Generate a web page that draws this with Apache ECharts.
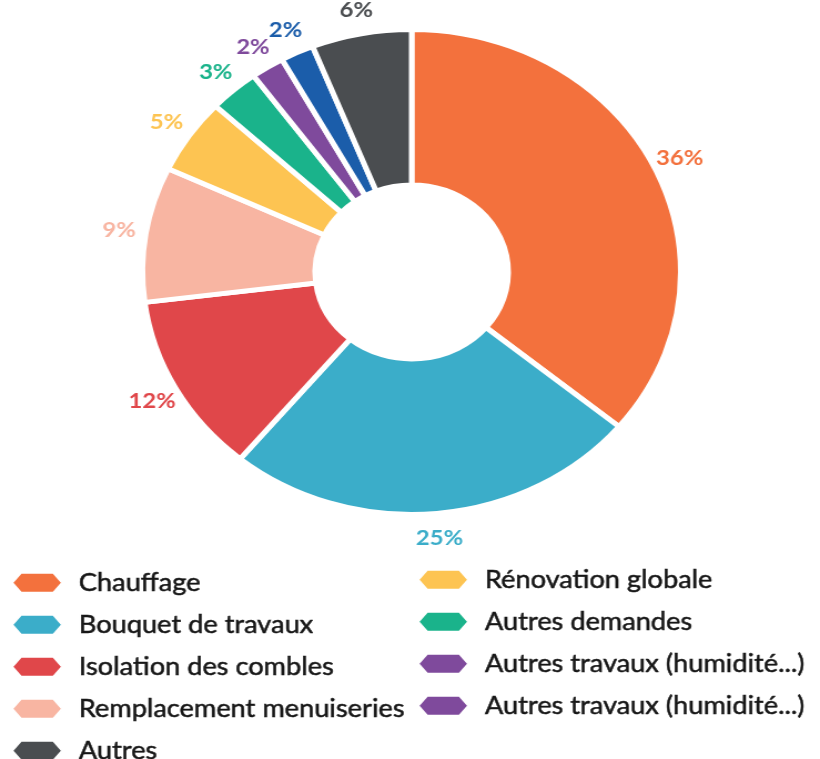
<!DOCTYPE html>
<html>
<head>
<meta charset="utf-8">
<script src="https://cdn.jsdelivr.net/npm/echarts@6/dist/echarts.min.js"></script>
<style>
  html, body { margin: 0; padding: 0; background: #fff; overflow: hidden; }
  /* la source est étirée horizontalement : on dessine plus étroit puis on étire */
  #chart { width: 739px; height: 759px; transform: scaleX(1.1096); transform-origin: 0 0; }
</style>
</head>
<body>
<div id="chart"></div>
<script>
// données
const categories = [
  'Chauffage',
  'Bouquet de travaux',
  'Isolation des combles',
  'Remplacement menuiseries',
  'Rénovation globale',
  'Autres demandes',
  'Autres travaux (humidité...)',
  'Autres travaux (humidité...) ',
  'Autres'
];
const values = [36, 25, 12, 9, 5, 3, 2, 2, 6];
const colors = ['#F3713D', '#3BADC9', '#E0474A', '#F8B5A2', '#FDC452', '#1AB38B', '#7F4A9C', '#1B5DAA', '#4A4D50'];

// ordre de la légende (2 colonnes)
const legendLeft = [categories[0], categories[1], categories[2], categories[3], categories[8]];
const legendRight = [categories[4], categories[5], categories[6], categories[7]];
const legendPurple = '#7F4A9C';

const hexIcon = 'path://M0,10 L8,0 L37,0 L45,10 L37,20 L8,20 Z';

const legendItem = name =>
  name.indexOf('Autres travaux') === 0
    ? { name, itemStyle: { color: legendPurple } }
    : { name };

const legendBase = {
  orient: 'vertical',
  icon: hexIcon,
  itemWidth: 45,
  itemHeight: 21,
  itemGap: 16.5,
  padding: 0,
  height: 230,
  selectedMode: false,
  textStyle: {
    fontFamily: 'Lato',
    fontSize: 24.5,
    color: '#161616',
    textBorderColor: '#161616',
    textBorderWidth: 0.5,
    padding: [0, 0, 0, 10]
  }
};

const chart = echarts.init(document.getElementById('chart'));
chart.setOption({
  backgroundColor: '#fff',
  animation: false,
  legend: [
    { ...legendBase, left: 10, top: 570, data: legendLeft.map(legendItem) },
    { ...legendBase, left: 376, top: 567, data: legendRight.map(legendItem) }
  ],
  series: [
    {
      type: 'pie',
      center: [371, 272],
      radius: [87, 242.5],
      startAngle: 90,
      clockwise: true,
      silent: true,
      label: { show: false },
      labelLine: { show: false },
      emphasis: { disabled: true },
      itemStyle: { borderColor: '#fff', borderWidth: 5 },
      data: categories.map((name, i) => ({
        name,
        value: values[i],
        itemStyle: { color: colors[i] }
      }))
    },
    {
      // anneau invisible qui porte les étiquettes centrées à r ~ 264
      type: 'pie',
      center: [371, 272],
      radius: [162, 366],
      startAngle: 90,
      clockwise: true,
      silent: true,
      avoidLabelOverlap: false,
      labelLayout: { hideOverlap: false },
      labelLine: { show: false },
      emphasis: { disabled: true },
      itemStyle: { color: 'rgba(0,0,0,0)' },
      label: {
        show: true,
        position: 'inside',
        formatter: '{c}%',
        fontFamily: 'Lato',
        fontWeight: 'bold',
        fontSize: 21.5
      },
      data: categories.map((name, i) => ({
        name,
        value: values[i],
        itemStyle: { color: 'rgba(0,0,0,0)' },
        label: { color: colors[i] }
      }))
    }
  ]
});
</script>
</body>
</html>
